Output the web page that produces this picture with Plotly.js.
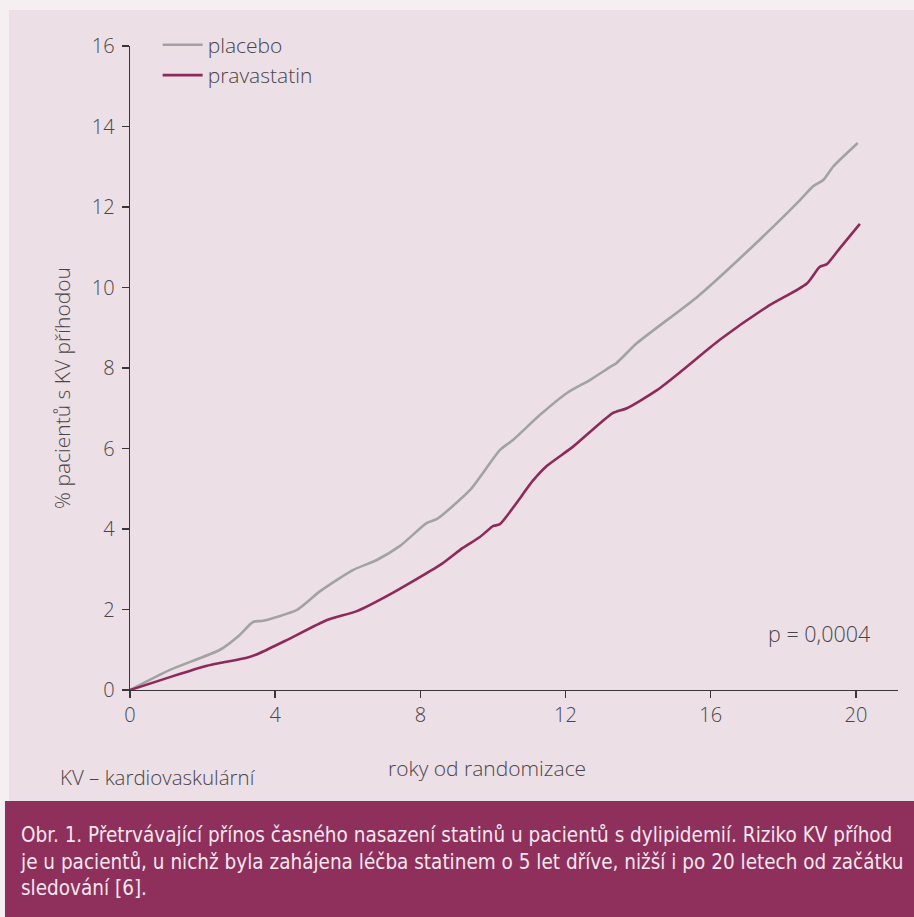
<!DOCTYPE html>
<html>
<head>
<meta charset="utf-8">
<script src="https://cdn.plot.ly/plotly-3.0.1.min.js"></script>
<style>
html,body{margin:0;padding:0;background:#f5eff2;}
#chart{width:914px;height:917px;}
</style>
</head>
<body>
<div id="chart"></div>
<script>
// Data (years since randomisation, % patients with CV event)
const placeboYears = [0, 1.1, 2.48, 3.0, 3.39, 3.66, 4.6, 5.23, 6.14, 6.8, 7.44, 8.18, 8.46, 9.37, 10.19, 10.55, 11.29, 12.04, 12.67, 13.22, 13.4, 13.97, 15.62, 16.8, 18.46, 18.8, 19.1, 19.37, 20.05];
const placeboPct   = [0, 0.5, 1.0, 1.35, 1.69, 1.72, 1.99, 2.45, 2.98, 3.23, 3.58, 4.15, 4.25, 4.97, 5.96, 6.21, 6.83, 7.38, 7.70, 8.02, 8.12, 8.62, 9.76, 10.72, 12.17, 12.5, 12.67, 13.0, 13.59];
const pravaYears = [0, 1.1, 2.12, 2.48, 3.22, 3.58, 4.32, 5.43, 6.25, 7.25, 8.6, 9.17, 9.64, 10.0, 10.19, 11.1, 11.49, 12.2, 13.3, 13.69, 14.52, 15.23, 16.25, 17.55, 18.65, 19.0, 19.2, 19.56, 20.11];
const pravaPct   = [0, 0.32, 0.6, 0.67, 0.8, 0.92, 1.24, 1.74, 1.96, 2.42, 3.14, 3.53, 3.8, 4.07, 4.12, 5.2, 5.57, 6.04, 6.88, 7.0, 7.45, 7.95, 8.7, 9.52, 10.1, 10.51, 10.58, 10.98, 11.58];
const seriesNames = ["placebo", "pravastatin"];
const xTicks = [0, 4, 8, 12, 16, 20];
const yTicks = [0, 2, 4, 6, 8, 10, 12, 14, 16];

const font = "'Open Sans', sans-serif";
const txt = "#4a4548";

const traces = [
  {x: placeboYears, y: placeboPct, name: seriesNames[0], mode: "lines",
   line: {color: "#a3a2a3", width: 2.6, shape: "spline", smoothing: 0.6}},
  {x: pravaYears, y: pravaPct, name: seriesNames[1], mode: "lines",
   line: {color: "#8e2a5b", width: 2.6, shape: "spline", smoothing: 0.6}}
];

const layout = {
  width: 914, height: 917,
  margin: {l: 130, r: 16, t: 46, b: 227},
  paper_bgcolor: "#f5eff2",
  plot_bgcolor: "rgba(0,0,0,0)",
  font: {family: font, color: txt, size: 17, weight: 300},
  showlegend: true,
  legend: {x: 0.036, y: 0.978, xanchor: "left", yanchor: "middle",
           bgcolor: "rgba(0,0,0,0)", font: {size: 21, color: txt, weight: 300},
           itemwidth: 40, tracegroupgap: 0},
  xaxis: {range: [0, 21.16], tickvals: xTicks, ticktext: xTicks.map(String),
          showgrid: false, zeroline: false, showline: true, linecolor: "#3a3538", linewidth: 1.4,
          ticks: "outside", ticklen: 7, tickcolor: "#3a3538", tickwidth: 1.4,
          tickfont: {size: 20, color: txt, weight: 300}, fixedrange: true},
  yaxis: {range: [0, 16], tickvals: yTicks, ticktext: yTicks.map(String),
          showgrid: false, zeroline: false, showline: true, linecolor: "#3a3538", linewidth: 1.4,
          ticks: "outside", ticklen: 7, tickcolor: "#3a3538", tickwidth: 1.4,
          tickfont: {size: 20, color: txt, weight: 300}, ticklabelstandoff: 3, fixedrange: true},
  shapes: [
    {type: "rect", xref: "paper", yref: "paper", x0: -0.1576, x1: 1.03, y0: -0.1724, y1: 1.0559,
     fillcolor: "#ecdfe6", line: {width: 0}, layer: "below"},
    {type: "rect", xref: "paper", yref: "paper", x0: -0.1628, x1: 1.03, y0: -0.37, y1: -0.1724,
     fillcolor: "#8e2f5c", line: {width: 0}, layer: "below"}
  ],
  annotations: [
    {text: "% pacientů s KV příhodou", xref: "paper", yref: "paper",
     x: (62 - 130) / 768, y: (690 - 388) / 644, textangle: -90, showarrow: false,
     xanchor: "center", yanchor: "middle", font: {size: 21, color: txt, weight: 300}},
    {text: "roky od randomizace", xref: "paper", yref: "paper",
     x: (487 - 130) / 768, y: (690 - 768) / 644, showarrow: false,
     xanchor: "center", yanchor: "middle", font: {size: 21, color: txt, weight: 300}},
    {text: "KV – kardiovaskulární", xref: "paper", yref: "paper",
     x: (58 - 130) / 768, y: (690 - 777) / 644, showarrow: false,
     xanchor: "left", yanchor: "middle", font: {size: 20.5, color: txt, weight: 300}},
    {text: "p = 0,0004", xref: "paper", yref: "paper",
     x: (872 - 130) / 768, y: (690 - 633) / 644, showarrow: false,
     xanchor: "right", yanchor: "middle", font: {size: 21.5, color: txt, weight: 300}},
    {text: "Obr. 1. Přetrvávající přínos časného nasazení statinů u pacientů s dylipidemií. Riziko KV příhod<br>je u pacientů, u nichž byla zahájena léčba statinem o 5 let dříve, nižší i po 20 letech od začátku<br>sledování [6].",
     xref: "paper", yref: "paper", x: (18 - 130) / 768, y: (690 - 861) / 644,
     showarrow: false, xanchor: "left", yanchor: "middle", align: "left",
     font: {size: 20.5, color: "#f3e6ec", family: "'DejaVu Sans Condensed', 'Roboto', sans-serif"}}
  ]
};

Plotly.newPlot("chart", traces, layout, {displayModeBar: false, staticPlot: true});
</script>
</body>
</html>
